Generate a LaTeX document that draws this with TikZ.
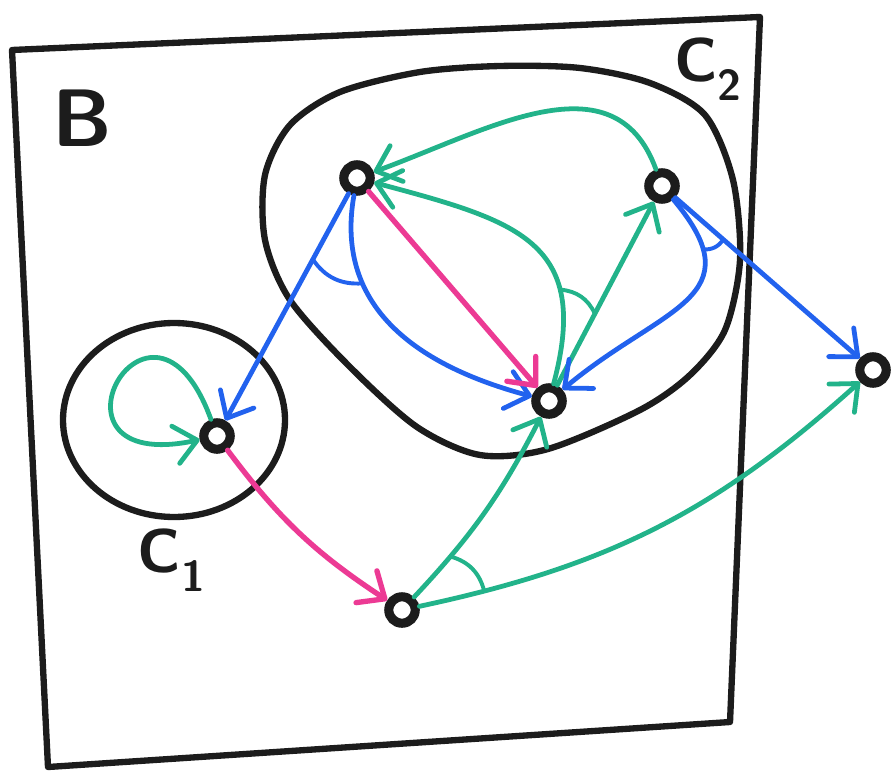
\documentclass[tikz,border=0pt]{standalone}
\usepackage{xcolor}
\usepackage{tikz}
\usetikzlibrary{arrows.meta}
\definecolor{ink}{HTML}{1C1C1C}
\definecolor{mint}{HTML}{22B38A}
\definecolor{azure}{HTML}{2262EE}
\definecolor{rose}{HTML}{EC3A94}

\begin{document}
\begin{tikzpicture}[x=0.025cm, y=0.025cm,
  state/.style={circle, draw=ink, fill=white, line width=6.5pt, minimum size=0.66cm, inner sep=0pt},
  region/.style={draw=ink, line width=4.5pt, line join=round},
  setname/.style={text=ink, font=\sffamily\bfseries\fontsize{44}{44}\selectfont},
  arr/.style={-{Straight Barb[length=5.5mm, width=9.5mm, round]}, line width=3.4pt, line cap=round},
  anglemark/.style={line width=2.8pt, line cap=round},
]
  \useasboundingbox (0,0) rectangle (892,772);
  \draw[region] (12,722) -- (760,755) -- (730,50) -- (48,5) -- cycle;
  \draw[region] (174,352) ellipse [x radius=111, y radius=97];
  \draw[region] plot[smooth cycle] coordinates {(265,597) (290,647) (340,680) (420,700) (500,706) (580,704) (650,689) (705,657) (733,592) (740,512) (725,442) (690,397) (640,362) (548,323) (480,317) (417,345) (350,405) (290,472) (265,532)};

  \node[setname, font=\sffamily\bfseries\fontsize{58}{58}\selectfont] (lblB) at (82,654) {B};
  \node[setname] (lblC2) at (708,703) {C\textsubscript{2}};
  \node[setname] (lblC1) at (172,212) {C\textsubscript{1}};

  \node[state] (a) at (357,594) {};
  \node[state] (b) at (662,586) {};
  \node[state] (c) at (549,371) {};
  \node[state] (d) at (217,336) {};
  \node[state] (e) at (402,162) {};
  \node[state] (f) at (873,402) {};

  \draw[arr, mint] (b) to[out=110, in=20, looseness=1.1] (a);
  \draw[arr, mint] (c) to[out=75, in=-15, looseness=1.4] coordinate[pos=0.28] (ca) (a);
  \draw[arr, mint] (c) -- coordinate[pos=0.39] (cb) (b);
  \draw[arr, mint] (d) to[out=110, in=192, min distance=4.4cm] (d);
  \draw[arr, mint] (e) to[bend right=8] coordinate[pos=0.23] (ec) (c);
  \draw[arr, mint] (e) to[bend right=15] coordinate[pos=0.12] (ef) (f);
  \draw[arr, azure] (a) -- coordinate[pos=0.29] (ad) (d);
  \draw[arr, azure] (a) to[out=-100, in=165, looseness=1.1] coordinate[pos=0.3] (ac) (c);
  \draw[arr, azure] (b) to[out=-50, in=40, looseness=1.5] coordinate[pos=0.2] (bc) (c);
  \draw[arr, azure] (b) -- coordinate[pos=0.26] (bf) (f);
  \draw[arr, rose, line width=3.8pt] (a) -- (c);
  \draw[arr, rose, line width=3.8pt] (d) to[bend right=10] (e);
  \draw[anglemark, mint] (ca) to[bend left=30] (cb);
  \draw[anglemark, mint] (ec) to[bend left=30] (ef);
  \draw[anglemark, azure] (ad) to[bend right=30] (ac);
  \draw[anglemark, azure] (bc) to[bend right=30] (bf);
\end{tikzpicture}
\end{document}
